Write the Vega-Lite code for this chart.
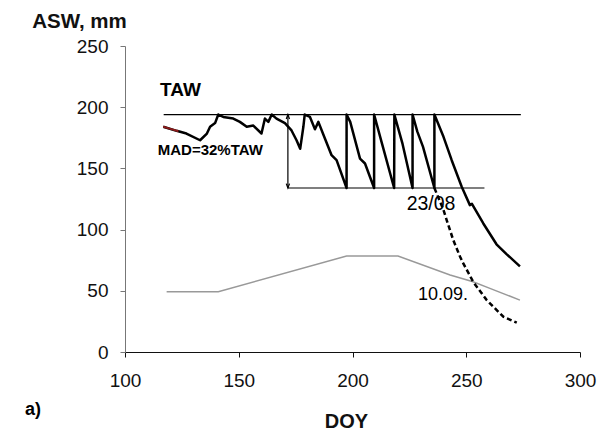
{
  "$schema": "https://vega.github.io/schema/vega-lite/v6.json",
  "width": 455,
  "height": 306,
  "autosize": {"type": "none"},
  "padding": {"left": 125, "top": 46, "right": 32, "bottom": 79},
  "background": "white",
  "config": {
    "view": {"stroke": null},
    "font": "Liberation Sans",
    "axis": {"grid": false, "labelColor": "#111", "labelFont": "Liberation Sans", "titleFont": "Liberation Sans", "titleColor": "#111"}
  },
  "datasets": {
    "asw": [
      {"i": 1, "doy": 116.8, "v": 184}, {"i": 2, "doy": 122.7, "v": 180.7}, {"i": 3, "doy": 127, "v": 178.5},
      {"i": 4, "doy": 133, "v": 173}, {"i": 5, "doy": 136, "v": 178.5}, {"i": 6, "doy": 137.4, "v": 184},
      {"i": 7, "doy": 139.6, "v": 187}, {"i": 8, "doy": 141, "v": 194}, {"i": 9, "doy": 143.2, "v": 192},
      {"i": 10, "doy": 147.6, "v": 190.7}, {"i": 11, "doy": 150.5, "v": 188}, {"i": 12, "doy": 153.5, "v": 184},
      {"i": 13, "doy": 156.4, "v": 185}, {"i": 14, "doy": 160, "v": 178.5}, {"i": 15, "doy": 161.5, "v": 190.7},
      {"i": 16, "doy": 163, "v": 188}, {"i": 17, "doy": 164.5, "v": 194}, {"i": 18, "doy": 166.6, "v": 190.7},
      {"i": 19, "doy": 170.3, "v": 187}, {"i": 20, "doy": 173.2, "v": 181}, {"i": 21, "doy": 175.4, "v": 173},
      {"i": 22, "doy": 177, "v": 166}, {"i": 23, "doy": 178.4, "v": 184}, {"i": 24, "doy": 179, "v": 194},
      {"i": 25, "doy": 181.3, "v": 192}, {"i": 26, "doy": 183.5, "v": 182}, {"i": 27, "doy": 185, "v": 188},
      {"i": 28, "doy": 187, "v": 178.5}, {"i": 29, "doy": 190.8, "v": 160.8}, {"i": 30, "doy": 193, "v": 156.7},
      {"i": 31, "doy": 197.4, "v": 134}, {"i": 32, "doy": 197.4, "v": 194}, {"i": 33, "doy": 199, "v": 188},
      {"i": 34, "doy": 203.3, "v": 158}, {"i": 35, "doy": 205.5, "v": 154}, {"i": 36, "doy": 207.7, "v": 143},
      {"i": 37, "doy": 209.5, "v": 134}, {"i": 38, "doy": 209.5, "v": 194}, {"i": 39, "doy": 213, "v": 170},
      {"i": 40, "doy": 218.3, "v": 134}, {"i": 41, "doy": 218.4, "v": 194}, {"i": 42, "doy": 222, "v": 170},
      {"i": 43, "doy": 226.4, "v": 134}, {"i": 44, "doy": 226.4, "v": 194}, {"i": 45, "doy": 228.5, "v": 180},
      {"i": 46, "doy": 231, "v": 167.6}, {"i": 47, "doy": 236, "v": 134}, {"i": 48, "doy": 236, "v": 194},
      {"i": 49, "doy": 240, "v": 175.8}, {"i": 50, "doy": 243.6, "v": 156.7}, {"i": 51, "doy": 248, "v": 135},
      {"i": 52, "doy": 251.6, "v": 120}, {"i": 53, "doy": 252.5, "v": 121}, {"i": 54, "doy": 257.5, "v": 105},
      {"i": 55, "doy": 263.3, "v": 88}, {"i": 56, "doy": 267.7, "v": 80}, {"i": 57, "doy": 273.6, "v": 70}
    ],
    "dashed": [
      {"i": 1, "doy": 236, "v": 134}, {"i": 2, "doy": 240, "v": 116}, {"i": 3, "doy": 241.4, "v": 107.8},
      {"i": 4, "doy": 244.3, "v": 91.4}, {"i": 5, "doy": 247.3, "v": 77.8}, {"i": 6, "doy": 248.7, "v": 72.4},
      {"i": 7, "doy": 252.3, "v": 60}, {"i": 8, "doy": 253, "v": 57.4}, {"i": 9, "doy": 259, "v": 42.4},
      {"i": 10, "doy": 266.3, "v": 28.8}, {"i": 11, "doy": 272.2, "v": 24}
    ],
    "gray": [
      {"doy": 118.3, "v": 49.2}, {"doy": 141, "v": 49.2}, {"doy": 197.4, "v": 78.4}, {"doy": 220, "v": 78.4},
      {"doy": 242.9, "v": 62.9}, {"doy": 253, "v": 57.4}, {"doy": 260.4, "v": 52}, {"doy": 273.6, "v": 42.4}
    ],
    "red": [
      {"doy": 116.8, "v": 184}, {"doy": 120, "v": 182.3}, {"doy": 123.5, "v": 180.4}
    ],
    "rules": [
      {"x": 117, "x2": 274, "y": 194},
      {"x": 171.6, "x2": 258, "y": 134}
    ],
    "arrowheads": [
      {"x": 171.6, "y": 134, "dir": "down"},
      {"x": 171.6, "y": 194, "dir": "up"}
    ],
    "boldLabels": [
      {"x": 115.4, "y": 214, "t": "TAW", "size": 19},
      {"x": 114.4, "y": 164.9, "t": "MAD=32%TAW", "size": 15},
      {"x": 56, "y": -47.3, "t": "a)", "size": 18}
    ],
    "plainLabels": [
      {"x": 223.8, "y": 120.8, "t": "23/08", "size": 19.5},
      {"x": 228.8, "y": 46.5, "t": "10.09.", "size": 18}
    ]
  },
  "layer": [
    {
      "data": {"name": "gray"},
      "mark": {"type": "line", "color": "#999999", "strokeWidth": 1.5},
      "encoding": {
        "x": {"field": "doy", "type": "quantitative", "scale": {"domain": [100, 300], "nice": false},
          "axis": {"values": [100, 150, 200, 250, 300], "title": "DOY", "titleFontSize": 20, "titleFontWeight": "bold", "titleX": 221, "titleY": 69, "titleBaseline": "middle", "labelFontSize": 19, "labelPadding": 14, "tickSize": 5, "labelFlush": false, "domainColor": "#111", "tickColor": "#111"}},
        "y": {"field": "v", "type": "quantitative", "scale": {"domain": [0, 250], "nice": false},
          "axis": {"values": [0, 50, 100, 150, 200, 250], "title": "ASW, mm", "titleAngle": 0, "titleFontSize": 20.5, "titleFontWeight": "bold", "titleX": -46, "titleY": -25, "titleAlign": "center", "titleBaseline": "middle", "labelFontSize": 19, "labelPadding": 12, "tickSize": 5, "labelBaseline": "middle", "domainColor": "#777", "tickColor": "#777"}}
      }
    },
    {
      "data": {"name": "rules"},
      "mark": {"type": "rule", "color": "black", "strokeWidth": 1.2},
      "encoding": {
        "x": {"field": "x", "type": "quantitative"},
        "x2": {"field": "x2"},
        "y": {"field": "y", "type": "quantitative"}
      }
    },
    {
      "data": {"values": [{"x": 171.6, "y": 134, "y2": 194}]},
      "mark": {"type": "rule", "color": "black", "strokeWidth": 1.2},
      "encoding": {
        "x": {"field": "x", "type": "quantitative"},
        "y": {"field": "y", "type": "quantitative"},
        "y2": {"field": "y2"}
      }
    },
    {
      "data": {"name": "arrowheads"},
      "mark": {"type": "point", "filled": false, "stroke": "black", "strokeWidth": 1.2, "size": 30, "opacity": 1},
      "encoding": {
        "x": {"field": "x", "type": "quantitative"},
        "y": {"field": "y", "type": "quantitative"},
        "shape": {"field": "dir", "type": "nominal", "scale": {"domain": ["down", "up"], "range": ["M-0.6,-1.6L0,0L0.6,-1.6", "M-0.6,1.6L0,0L0.6,1.6"]}, "legend": null}
      }
    },
    {
      "data": {"name": "dashed"},
      "mark": {"type": "line", "color": "black", "strokeWidth": 2.5, "strokeDash": [5, 3]},
      "encoding": {
        "x": {"field": "doy", "type": "quantitative"},
        "y": {"field": "v", "type": "quantitative"},
        "order": {"field": "i"}
      }
    },
    {
      "data": {"name": "asw"},
      "mark": {"type": "line", "color": "black", "strokeWidth": 2.5, "strokeJoin": "round"},
      "encoding": {
        "x": {"field": "doy", "type": "quantitative"},
        "y": {"field": "v", "type": "quantitative"},
        "order": {"field": "i"}
      }
    },
    {
      "data": {"name": "red"},
      "mark": {"type": "line", "color": "#8b1a1a", "strokeWidth": 2},
      "encoding": {
        "x": {"field": "doy", "type": "quantitative"},
        "y": {"field": "v", "type": "quantitative"}
      }
    },
    {
      "data": {"name": "boldLabels"},
      "mark": {"type": "text", "align": "left", "baseline": "middle", "color": "black", "font": "Liberation Sans", "fontWeight": "bold"},
      "encoding": {
        "x": {"field": "x", "type": "quantitative"},
        "y": {"field": "y", "type": "quantitative"},
        "text": {"field": "t"},
        "size": {"field": "size", "type": "quantitative", "scale": null}
      }
    },
    {
      "data": {"name": "plainLabels"},
      "mark": {"type": "text", "align": "left", "baseline": "middle", "color": "black", "font": "Liberation Sans"},
      "encoding": {
        "x": {"field": "x", "type": "quantitative"},
        "y": {"field": "y", "type": "quantitative"},
        "text": {"field": "t"},
        "size": {"field": "size", "type": "quantitative", "scale": null}
      }
    }
  ]
}
